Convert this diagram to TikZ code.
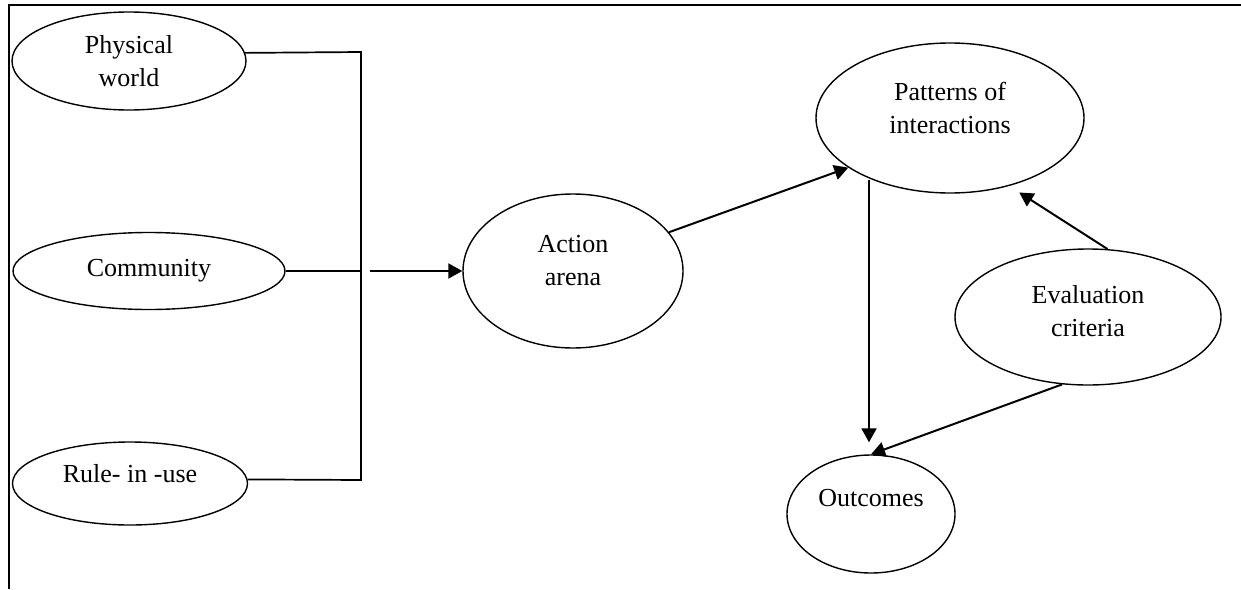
\documentclass[tikz,border=0pt]{standalone}
\usepackage{fontspec}
\setmainfont{Liberation Serif}
\usetikzlibrary{arrows.meta,shapes.geometric}

\begin{document}
\begin{tikzpicture}[x=0.5pt,y=-0.5pt,
	bubble/.style={ellipse, draw, line width=0.7pt, inner sep=0pt, align=center, font=\fontsize{13}{16.5}\selectfont},
	lift/.style={text depth=#1},
	link/.style={line width=1pt, -{Triangle[length=7pt,width=7.5pt]}},
	bus/.style={line width=0.85pt}]

\useasboundingbox (0,0) rectangle (1241,589);
\draw[line width=1pt] (9,589) -- (9,5) -- (1241,5);

\node[bubble, minimum width=117pt, minimum height=49pt] (physical) at (129,61) {Physical\\world};
\node[bubble, minimum width=136pt, minimum height=38.5pt] (community) at (149,271) {Community};
\node[bubble, minimum width=117.5pt, minimum height=41.5pt, lift=10.5pt] (rules) at (130,483.5) {Rule- in -use};

\node[bubble, minimum width=110pt, minimum height=77pt, lift=11pt] (arena) at (573,271) {Action\\arena};
\node[bubble, minimum width=134pt, minimum height=75pt, lift=10pt] (patterns) at (950,118) {Patterns of\\interactions};
\node[bubble, minimum width=133pt, minimum height=68pt, lift=6pt] (criteria) at (1088,317) {Evaluation\\criteria};
\node[bubble, minimum width=84pt, minimum height=59pt, lift=16pt] (outcomes) at (871,514) {Outcomes};

\coordinate (bustop) at (361,52);
\coordinate (busbot) at (361,480);
\coordinate (busout) at (370,271);
\coordinate (drop) at (869,180);

\draw[bus] (physical.4) -- (bustop) -- (busbot) -- (rules.2);
\draw[bus] (community.east) -- (community.east -| bustop);

\draw[link] (busout) -- (arena.west);
\draw[link] (arena.22) -- (patterns.206);
\draw[link, shorten >=6pt] (drop) -- (drop |- outcomes.north);
\draw[link, shorten >=6pt] (criteria.74) -- (patterns.311);
\draw[link] (criteria.249) -- (outcomes.north);
\end{tikzpicture}
\end{document}
